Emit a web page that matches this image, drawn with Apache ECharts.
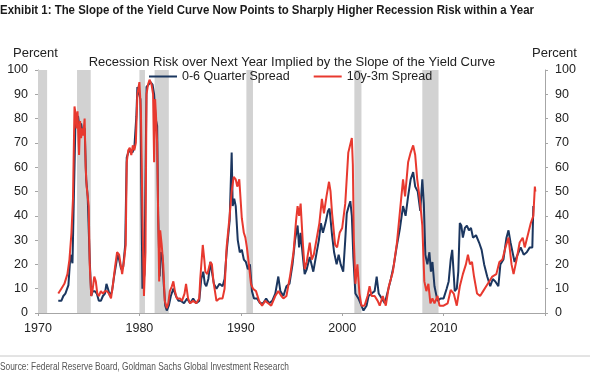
<!DOCTYPE html>
<html>
<head>
<meta charset="utf-8">
<script src="https://cdn.jsdelivr.net/npm/echarts@6/dist/echarts.min.js"></script>
<style>
html,body{margin:0;padding:0;background:#fff;}
#chart{width:590px;height:381px;}
</style>
</head>
<body>
<div id="chart"></div>
<script>
// 0-6 Quarter Spread (navy)
const navyYears = [1972.0,1972.3,1972.5,1972.7,1973.0,1973.2,1973.3,1973.4,1973.5,1973.6,1973.7,1973.8,1973.95,1974.1,1974.25,1974.4,1974.6,1974.75,1974.9,1975.1,1975.25,1975.4,1975.6,1975.8,1976.0,1976.2,1976.4,1976.6,1976.75,1976.9,1977.1,1977.3,1977.5,1977.7,1977.85,1978.0,1978.2,1978.4,1978.6,1978.75,1978.9,1979.1,1979.3,1979.5,1979.7,1979.8,1979.95,1980.1,1980.3,1980.5,1980.7,1980.9,1981.1,1981.3,1981.45,1981.6,1981.75,1981.85,1982.0,1982.1,1982.25,1982.4,1982.55,1982.7,1982.9,1983.1,1983.35,1983.6,1983.85,1984.1,1984.4,1984.7,1985.0,1985.3,1985.6,1985.9,1986.1,1986.3,1986.45,1986.6,1986.8,1987.0,1987.15,1987.35,1987.6,1987.9,1988.2,1988.4,1988.6,1988.9,1989.1,1989.2,1989.35,1989.5,1989.7,1989.9,1990.1,1990.3,1990.5,1990.7,1990.9,1991.1,1991.3,1991.6,1991.9,1992.2,1992.5,1992.8,1993.1,1993.4,1993.7,1993.9,1994.2,1994.5,1994.8,1995.1,1995.35,1995.6,1995.75,1995.9,1996.1,1996.3,1996.5,1996.8,1997.15,1997.4,1997.7,1997.9,1998.1,1998.35,1998.6,1998.75,1999.0,1999.2,1999.45,1999.65,1999.85,2000.1,2000.3,2000.45,2000.65,2000.8,2000.95,2001.1,2001.3,2001.6,2001.9,2002.1,2002.4,2002.6,2002.9,2003.2,2003.4,2003.6,2003.9,2004.2,2004.5,2004.8,2005.1,2005.4,2005.7,2006.0,2006.25,2006.5,2006.75,2007.0,2007.2,2007.45,2007.7,2007.9,2008.05,2008.2,2008.4,2008.6,2008.75,2008.9,2009.1,2009.4,2009.7,2010.0,2010.3,2010.5,2010.7,2010.85,2011.1,2011.3,2011.45,2011.6,2011.75,2011.9,2012.1,2012.3,2012.5,2012.7,2012.9,2013.2,2013.5,2013.75,2014.0,2014.3,2014.6,2014.85,2015.1,2015.4,2015.6,2015.9,2016.2,2016.4,2016.6,2017.0,2017.3,2017.6,2017.9,2018.2,2018.5,2018.75,2018.85];
const navyValues = [5,5,7,8,11.5,24,24,20.5,21,60,80,80,81,76,78,74,76,55,48,22,7,9,9,8,5,5,7,8,12,10,7,9,15,20,24,22,18,19,28,64,66,67,66,68,81,93,93,88,10,16,93,94,95,94,90,80,77,40,15,25,24,12,3,1,3,7,10,7,5,5,4,6,4,6,4,5,14,17,12,11,14,21,17,12,10,12,11,14,25,38,66,44,47,44,30,25,26,22,21,18,20,9,6,6,4,4,6,4,5,8,15,9,7,11,12,20,30,36,27,33,24,16,18,23,17,23,30,37,33,37,42,43,32,25,20,24,20,17,30,41,44,46,40,23,8,6,3,1,3,7,8,9,15,8,6,4,9,14,20,28,35,44,40,48,55,58,52,50,42,55,45,24,20,25,17,21,11,5,6,6,10,13,22,26,9,10,17,37,36,31,35,36,34,35,31,32,29,26,20,15,11,14,13,11,20,22,31,34,29,21,24,27,24,25,27,27,44];

// 10y-3m Spread (red)
const redYears = [1972.0,1972.3,1972.6,1972.9,1973.1,1973.3,1973.45,1973.6,1973.7,1973.8,1973.9,1974.0,1974.05,1974.15,1974.25,1974.35,1974.45,1974.6,1974.7,1974.8,1975.0,1975.1,1975.25,1975.4,1975.55,1975.7,1975.85,1976.0,1976.2,1976.4,1976.6,1976.8,1977.0,1977.2,1977.4,1977.6,1977.8,1978.0,1978.15,1978.3,1978.5,1978.65,1978.75,1978.9,1979.05,1979.2,1979.35,1979.5,1979.65,1979.8,1980.0,1980.15,1980.3,1980.45,1980.6,1980.7,1980.85,1981.0,1981.2,1981.35,1981.45,1981.55,1981.65,1981.75,1981.85,1981.95,1982.05,1982.2,1982.35,1982.5,1982.7,1982.85,1983.0,1983.2,1983.35,1983.5,1983.7,1984.0,1984.2,1984.45,1984.6,1984.8,1985.0,1985.3,1985.6,1985.9,1986.0,1986.25,1986.4,1986.5,1986.7,1987.0,1987.15,1987.3,1987.6,1987.9,1988.2,1988.4,1988.6,1988.9,1989.1,1989.3,1989.5,1989.65,1989.85,1990.1,1990.3,1990.45,1990.6,1990.8,1991.0,1991.2,1991.5,1991.8,1992.1,1992.4,1992.7,1993.0,1993.4,1993.7,1994.0,1994.2,1994.5,1994.85,1995.2,1995.45,1995.6,1995.75,1995.9,1996.1,1996.3,1996.5,1996.8,1997.0,1997.2,1997.5,1997.75,1998.0,1998.2,1998.45,1998.7,1998.85,1999.0,1999.3,1999.5,1999.75,2000.0,2000.3,2000.6,2000.95,2001.05,2001.15,2001.3,2001.5,2001.7,2001.9,2002.2,2002.5,2002.7,2002.9,2003.2,2003.5,2003.7,2004.0,2004.3,2004.6,2005.0,2005.4,2005.7,2006.0,2006.2,2006.5,2006.75,2007.0,2007.2,2007.4,2007.65,2007.9,2008.1,2008.3,2008.5,2008.7,2008.9,2009.1,2009.4,2009.6,2010.0,2010.4,2010.7,2011.0,2011.3,2011.6,2011.9,2012.2,2012.4,2012.6,2012.8,2013.0,2013.3,2013.6,2013.9,2014.2,2014.5,2014.8,2015.2,2015.5,2015.8,2016.1,2016.4,2016.7,2016.9,2017.2,2017.5,2017.8,2018.0,2018.3,2018.6,2018.85,2019.0,2019.05];
const redValues = [8,10,12,16,22,33,47,85,82,76,83,70,65,79,72,76,73,80,60,52,44,20,7,10,15,13,8,7,9,8,9,9,8,6,12,19,25,24,20,16,22,28,62,67,68,65,69,67,70,90,95,83,40,7,25,90,94,96,94,90,62,88,80,70,40,13,34,28,20,5,2,4,9,11,13,9,6,6,5,8,12,6,4,5,4,6,14,28,22,17,16,21,20,13,5,6,6,10,27,40,50,56,55,52,55,39,33,31,27,20,12,10,9,5,3,5,4,3,7,9,7,6,7,15,25,38,44,40,45,30,18,21,29,22,24,31,37,47,41,48,54,50,41,28,27,33,35,45,66,72,61,30,12,20,8,3,3,7,11,7,7,5,3,7,3,11,17,29,42,55,48,62,66,69,65,55,47,36,13,9,12,4,6,4,7,3,3,4,9.5,8,3,11,16,20,24,20,21,15,8,7,9,11,13,15,16,21,22,27,31,20,16,22,29,31,27,32,37,40,52,50];

// NBER recessions (start, end)
const recessions = [[1970.0,1970.9],[1973.85,1975.2],[1980.0,1980.55],[1981.5,1982.9],[1990.55,1991.2],[2001.2,2001.9],[2007.9,2009.5]];

const yTicks = [0,10,20,30,40,50,60,70,80,90,100];
const xLabels = [1970,1980,1990,2000,2010];

const TITLE = 'Exhibit 1: The Slope of the Yield Curve Now Points to Sharply Higher Recession Risk within a Year';
const SOURCE = 'Source: Federal Reserve Board, Goldman Sachs Global Investment Research';

const FONT = 'Liberation Sans, Arial, sans-serif';
const NAVY = '#1b365f';
const RED = '#e8392f';
const AXIS = '#a6a6a6';

// measure text to condense it horizontally (narrow font look)
const mctx = document.createElement('canvas').getContext('2d');
function textWidth(font, txt){ mctx.font = font; return mctx.measureText(txt).width; }
const titleFont = 'bold 13px "Liberation Sans", Arial, sans-serif';
const titleScale = 534 / textWidth(titleFont, TITLE);
const sourceFont = '10px "Liberation Sans", Arial, sans-serif';
const sourceScale = 289 / textWidth(sourceFont, SOURCE);

const chart = echarts.init(document.getElementById('chart'));

function yAxisCfg(pos){
  return {
    type:'value', position:pos, min:0, max:100, interval:10,
    axisLine:{show:true, lineStyle:{color:AXIS, width:1}},
    axisTick:{show:true, length:3, lineStyle:{color:AXIS}},
    splitLine:{show:false},
    axisLabel:{color:'#222', fontFamily:FONT, fontSize:12.5, margin:10,
      formatter:v => yTicks.includes(v) ? String(v) : ''}
  };
}

chart.setOption({
  animation:false,
  backgroundColor:'#fff',
  title:[
    {text:'Recession Risk over Next Year Implied by the Slope of the Yield Curve',
     left:287, top:51, textAlign:'center',
     textStyle:{fontFamily:FONT, fontWeight:'normal', fontSize:13, color:'#222'}},
    {text:'Percent', left:8, top:42,
     textStyle:{fontFamily:FONT, fontWeight:'normal', fontSize:13, color:'#222'}},
    {text:'Percent', left:527, top:42,
     textStyle:{fontFamily:FONT, fontWeight:'normal', fontSize:13, color:'#222'}}
  ],
  legend:{
    data:['0-6 Quarter Spread','10y-3m Spread'],
    left:149, top:70, padding:0, itemWidth:28, itemHeight:2, itemGap:24,
    icon:'rect',
    textStyle:{fontFamily:FONT, fontSize:12.5, color:'#222'}
  },
  grid:{left:38, right:45, top:70, bottom:68, containLabel:false},
  xAxis:{
    type:'value', min:1970, max:2020, interval:10,
    axisLine:{show:true, lineStyle:{color:AXIS}},
    axisTick:{show:true, length:3, lineStyle:{color:AXIS}},
    splitLine:{show:false},
    axisLabel:{color:'#222', fontFamily:FONT, fontSize:12.5, margin:9,
      formatter:v => xLabels.includes(v) ? String(v) : ''}
  },
  yAxis:[yAxisCfg('left'), yAxisCfg('right')],
  series:[
    {name:'recessions', type:'line', data:[], silent:true,
     markArea:{silent:true, itemStyle:{color:'#d2d2d2'},
       data:recessions.map(r => [{xAxis:r[0]},{xAxis:r[1]}])}},
    {name:'0-6 Quarter Spread', type:'line', showSymbol:false, symbol:'none',
     color:NAVY, lineStyle:{color:NAVY, width:2},
     data:navyYears.map((y,i)=>[y,navyValues[i]])},
    {name:'10y-3m Spread', type:'line', showSymbol:false, symbol:'none',
     color:RED, lineStyle:{color:RED, width:2},
     data:redYears.map((y,i)=>[y,redValues[i]])}
  ],
  graphic:[
    {type:'text', x:0, y:3, scaleX:titleScale, scaleY:1.05,
     style:{text:TITLE, font:titleFont, fill:'#1a1a1a'}},
    {type:'line', shape:{x1:0, y1:356, x2:590, y2:356}, style:{stroke:'#c8c8c8', lineWidth:1}},
    {type:'text', x:0, y:362, scaleX:sourceScale,
     style:{text:SOURCE, font:sourceFont, fill:'#555'}}
  ]
});
</script>
</body>
</html>
